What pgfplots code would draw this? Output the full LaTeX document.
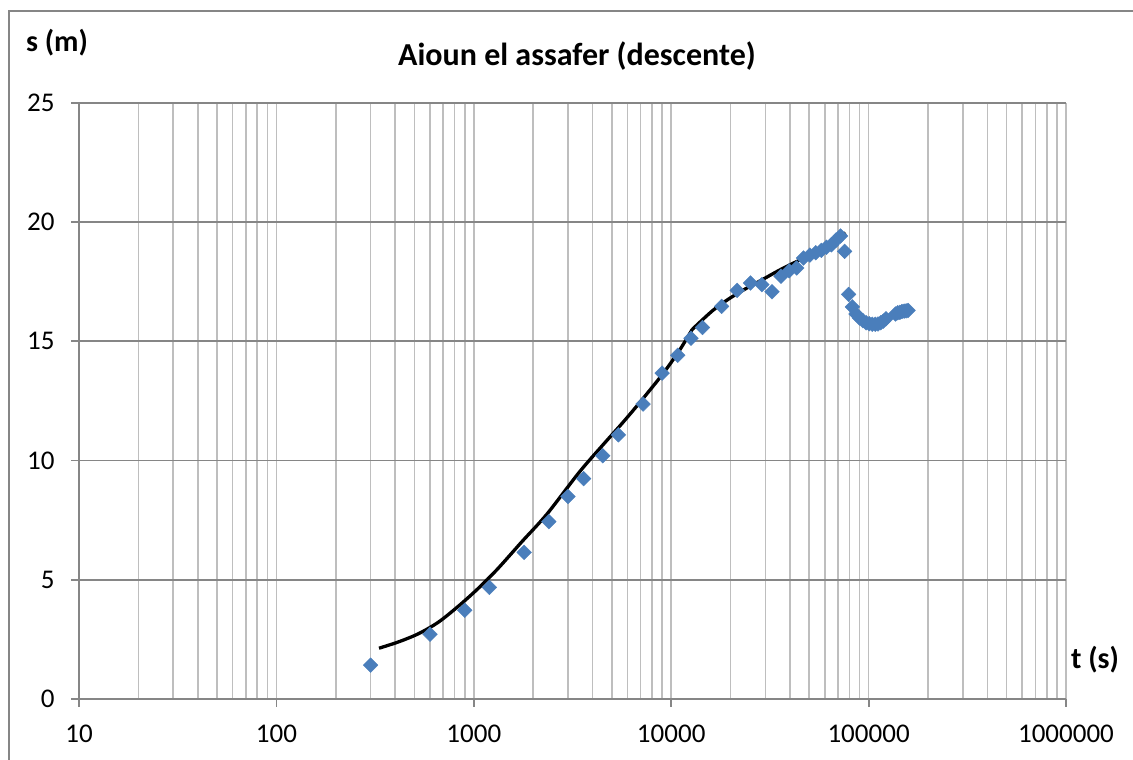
\documentclass[border=0pt]{standalone}
\usepackage{pgfplots}
\pgfplotsset{compat=1.18}
\usepackage{fontspec}
\setmainfont{Carlito}
\definecolor{gridlight}{RGB}{190,190,190}
\definecolor{griddark}{RGB}{134,134,134}
\definecolor{markblue}{RGB}{74,126,187}
\begin{document}
\begin{tikzpicture}[x=1pt,y=1pt]
\useasboundingbox (0,0) rectangle (1133,760);
\draw[griddark, line width=1.5pt] (9,0) -- (9,749) -- (1133,749);
\node[font=\bfseries\fontsize{32}{36}\selectfont] at (577,704) {Aioun el assafer (descente)};
\node[font=\bfseries\fontsize{30}{34}\selectfont] at (57,717) {s (m)};
\node[font=\bfseries\fontsize{30}{34}\selectfont] at (1095,100) {t (s)};
\begin{axis}[
  at={(79pt,61pt)}, anchor=south west,
  scale only axis, width=987pt, height=596pt,
  xmode=log, log basis x=10,
  xmin=10, xmax=1000000, ymin=0, ymax=25,
  xtick={10,100,1000,10000,100000,1000000},
  xticklabels={10,100,1000,10000,100000,1000000},
  minor xtick={20,30,40,50,60,70,80,90,200,300,400,500,600,700,800,900,2000,3000,4000,5000,6000,7000,8000,9000,20000,30000,40000,50000,60000,70000,80000,90000,200000,300000,400000,500000,600000,700000,800000,900000},
  ytick={0,5,10,15,20,25},
  yticklabels={0,5,10,15,20,25},
  axis x line*=bottom, axis y line*=left,
  axis line style={griddark, line width=1.8pt, -},
  tick align=outside,
  major tick length=8pt, minor tick length=0pt,
  tick style={griddark, line width=1.8pt},
  xmajorgrids=true, xminorgrids=true, ymajorgrids=false,
  major grid style={gridlight, line width=1.6pt},
  minor grid style={gridlight, line width=1.6pt},
  extra y ticks={5,10,15,20,25},
  extra y tick labels={},
  extra y tick style={grid=major, major grid style={griddark, line width=1.8pt}, major tick length=0pt},
  tick label style={font=\fontsize{27}{31}\selectfont},
  yticklabel style={xshift=-13pt},
  xticklabel style={yshift=-14pt},
  clip=false,
]
\addplot[only marks, mark=square*, mark size=5.2pt, mark options={rotate=45, fill=markblue, draw=markblue}] coordinates {
(300,1.42) (600,2.72) (900,3.72) (1200,4.68) (1800,6.15) (2400,7.44)
(3000,8.49) (3600,9.24) (4500,10.2) (5400,11.08) (7200,12.37) (9000,13.67)
(10800,14.42) (12600,15.13) (14400,15.58) (18000,16.47) (21600,17.14)
(25200,17.45) (28800,17.38) (32400,17.08) (36000,17.73) (39600,17.96)
(43200,18.08) (46800,18.5) (50400,18.62) (54000,18.72) (57600,18.82)
(61200,18.95) (64800,19.05) (68400,19.25) (72000,19.42) (75600,18.78)
(79200,16.97) (82800,16.45) (86400,16.15) (90000,15.98) (93600,15.87)
(97200,15.78) (100800,15.74) (104400,15.72) (108000,15.72) (111600,15.73)
(115200,15.78) (118800,15.85) (122400,15.95)
(136800,16.15) (140400,16.2) (144000,16.22) (147600,16.25) (151200,16.27)
(154800,16.28) (158400,16.3)
};
\addplot[black, line width=3.3pt, smooth, no marks] coordinates {
(331,2.13) (417,2.40) (525,2.74) (661,3.22) (832,3.88) (1047,4.62)
(1318,5.45) (1762,6.62) (2344,7.75) (3412,9.5) (4467,10.62) (5623,11.55)
(6871,12.4) (8995,13.6) (10965,14.6) (12770,15.5)
};
\addplot[black, line width=3.3pt, smooth, no marks, line join=round] coordinates {
(12770,15.5) (16150,16.28) (19640,16.79) (23840,17.21) (28950,17.59)
(35180,17.98) (42720,18.33) (51880,18.67) (62980,19.06) (76500,19.55)
};
\end{axis}
\end{tikzpicture}
\end{document}
